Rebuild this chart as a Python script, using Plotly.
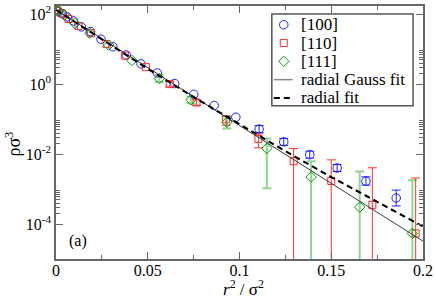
import plotly.graph_objects as go

# ---------------- data ----------------
x100 = [0, 0.000383, 0.00153, 0.00345, 0.00613, 0.00958, 0.0138, 0.01877, 0.0245, 0.031,
        0.0383, 0.0463, 0.0552, 0.0647, 0.0751, 0.0862, 0.098, 0.1107, 0.1241, 0.1383,
        0.1532, 0.1689, 0.1854]
y100 = [135, 131, 120, 104, 84.6, 65, 44, 32.3, 19.5, 11.9,
        6.9, 3.85, 2.11, 1.05, 0.516, 0.248, 0.114, 0.0522, 0.0225, 0.00968,
        0.00403, 0.00168, 5.57e-4]
hi100 = [None] * 17 + [0.0657, 0.0283, 0.0122, 0.00507, 0.00225, 9.4e-4]
lo100 = [None] * 17 + [0.0415, 0.0179, 0.0077, 0.0032, 0.0013, 3.3e-4]

x110 = [0, 0.000766, 0.00306, 0.0069, 0.01226, 0.01915, 0.02758, 0.03753, 0.049, 0.062,
        0.0766, 0.0927, 0.1103, 0.1295, 0.150, 0.1724, 0.196]
y110 = [135, 127, 107, 74, 46.6, 28.8, 14.1, 6.6, 3.1, 1.01,
        0.301, 0.100, 0.0274, 6.27e-3, 1.71e-3, 3.54e-4, 5.4e-5]
hi110 = [None] * 9 + [1.21, 0.36, 0.1216, 0.0378, 0.01455, 6.87e-3, 4.08e-3, 2.08e-3]
lo110 = [None] * 9 + [0.84, 0.25, 0.0678, 0.01524, 1e-6, 1e-6, 1e-6, 1e-6]

x111 = [0, 0.00115, 0.0046, 0.01034, 0.01838, 0.0287, 0.0414, 0.0563, 0.0735, 0.0931,
        0.1149, 0.139, 0.1655, 0.1942]
y111 = [135, 124, 95, 55, 29, 13.2, 4.8, 1.456, 0.359, 0.0822,
        0.01455, 2.22e-3, 3.05e-4, 5.4e-5]
hi111 = [None] * 7 + [1.83, 0.45, 0.1216, 0.0279, 6.27e-3, 3.21e-3, 1.79e-3]
lo111 = [None] * 7 + [1.16, 0.285, 0.0547, 1.05e-3, 1e-6, 1e-6, 1e-6]

# fit curves
gauss_x = [0, 0.2]
gauss_y = [135, 3.24e-5]
radial_x = [0, 0.025, 0.05, 0.075, 0.1, 0.125, 0.15, 0.175, 0.2]
radial_y = [135, 18.8, 2.77, 0.430, 0.0703, 0.01216, 2.22e-3, 4.27e-4, 8.5e-5]

names = ["[100]", "[110]", "[111]", "radial Gauss fit", "radial fit"]
xtick_vals = [0, 0.05, 0.1, 0.15, 0.2]
xtick_text = ["0", "0.05", "0.1", "0.15", "0.2"]
ytick_vals = [1e2, 1, 1e-2, 1e-4]
ytick_text = ["10<sup>2</sup>", "10<sup>0</sup>", "10<sup>-2</sup>", "10<sup>-4</sup>"]

# ---------------- styling ----------------
FONT = "'Liberation Serif', 'Times New Roman', 'DejaVu Serif', serif"
BLUE, RED, GREEN = "#1f1fff", "#ff2a2a", "#009a00"
series = [
    (x100, y100, hi100, lo100, BLUE, "circle-open", 8.5, BLUE, 1),
    (x110, y110, hi110, lo110, RED, "square-open", 7, "#ff3030", 1),
    (x111, y111, hi111, lo111, GREEN, "diamond-open", 8, "rgba(40,170,40,0.5)", 2),
]

fig = go.Figure()

for xs, ys, his, los, col, sym, size, ecol, ew in series:
    px = [x for x, h in zip(xs, his) if h is None]
    py = [y for y, h in zip(ys, his) if h is None]
    fig.add_trace(go.Scatter(x=px, y=py, mode="markers", showlegend=False,
                             marker=dict(symbol=sym, size=size, color=col,
                                         line=dict(width=1, color=col))))
    ex = [x for x, h in zip(xs, his) if h is not None]
    ey = [y for y, h in zip(ys, his) if h is not None]
    eh = [h - y for y, h in zip(ys, his) if h is not None]
    el = [y - l for y, l, h in zip(ys, los, his) if h is not None]
    fig.add_trace(go.Scatter(x=ex, y=ey, mode="markers", showlegend=False,
                             marker=dict(symbol=sym, size=size, color=col,
                                         line=dict(width=1, color=col)),
                             error_y=dict(type="data", symmetric=False, array=eh,
                                          arrayminus=el, color=ecol, thickness=ew,
                                          width=4.5)))

fig.add_trace(go.Scatter(x=gauss_x, y=gauss_y, mode="lines", showlegend=False,
                         line=dict(color="#3a3a3a", width=1)))
fig.add_trace(go.Scatter(x=radial_x, y=radial_y, mode="lines", showlegend=False,
                         line=dict(color="black", width=2, dash="6px,4px")))

# ---------------- manual legend (overlay axes in plot-area fractions) ----------------
L, R, T, B = 56, 425, 3, 259
def fx(p):
    return (p - L) / (R - L)
def fy(p):
    return (B - p) / (B - T)

rows = [22, 40.5, 59, 77.5, 96]
leg_marks = [(BLUE, "circle-open", 8.5), (RED, "square-open", 7), (GREEN, "diamond-open", 8)]
for (col, sym, size), ry in zip(leg_marks, rows[:3]):
    fig.add_trace(go.Scatter(x=[fx(285)], y=[fy(ry)], xaxis="x2", yaxis="y2",
                             mode="markers", showlegend=False, hoverinfo="skip",
                             marker=dict(symbol=sym, size=size, color=col,
                                         line=dict(width=1, color=col))))
fig.add_trace(go.Scatter(x=[fx(275), fx(294)], y=[fy(rows[3])] * 2, xaxis="x2", yaxis="y2",
                         mode="lines", showlegend=False, hoverinfo="skip",
                         line=dict(color="#888888", width=1.5)))
fig.add_trace(go.Scatter(x=[fx(275), fx(294)], y=[fy(rows[4])] * 2, xaxis="x2", yaxis="y2",
                         mode="lines", showlegend=False, hoverinfo="skip",
                         line=dict(color="black", width=2, dash="6px,4px")))

annotations = []
for name, ry in zip(names, rows):
    annotations.append(dict(x=fx(300), y=fy(ry), xref="paper", yref="paper", text=name,
                            showarrow=False, xanchor="left", yanchor="middle",
                            font=dict(family=FONT, size=17, color="black")))
annotations.append(dict(x=fx(78), y=fy(241), xref="paper", yref="paper", text="(a)",
                        showarrow=False, xanchor="center", yanchor="middle",
                        font=dict(family=FONT, size=16, color="black")))
annotations.append(dict(x=fx(245), y=fy(288), xref="paper", yref="paper",
                        text="<i>r</i><sup>2</sup> / σ<sup>2</sup>",
                        showarrow=False, xanchor="center", yanchor="middle",
                        font=dict(family=FONT, size=17, color="black")))
annotations.append(dict(x=fx(13), y=fy(143), xref="paper", yref="paper",
                        text="ρσ<sup>3</sup>", textangle=-90,
                        showarrow=False, xanchor="center", yanchor="middle",
                        font=dict(family=FONT, size=18, color="black")))

shapes = [dict(type="rect", xref="paper", yref="paper", x0=fx(273), x1=fx(415),
               y0=fy(104), y1=fy(11), line=dict(color="#555555", width=1.5),
               fillcolor="white", layer="below")]

yminor = [k * 10.0 ** m for m in (0, -2, -4) for k in range(2, 10)]

AX = "#666666"
fig.update_layout(
    width=436, height=299,
    margin=dict(l=L, r=436 - R, t=T, b=299 - B),
    paper_bgcolor="white", plot_bgcolor="white",
    showlegend=False,
    font=dict(family=FONT, size=16, color="black"),
    annotations=annotations, shapes=shapes,
    xaxis=dict(range=[0, 0.2], tickmode="array", tickvals=xtick_vals, ticktext=xtick_text,
               ticks="inside", ticklen=7, tickwidth=1.2, tickcolor=AX,
               showline=True, linecolor=AX, linewidth=1.5, mirror="ticks",
               showgrid=False, zeroline=False, ticklabelstandoff=-4,
               tickfont=dict(family=FONT, size=16, color="black"),
               minor=dict(tickmode="linear", tick0=0, dtick=0.025, ticks="inside",
                          ticklen=4, tickcolor=AX, tickwidth=1, showgrid=False)),
    yaxis=dict(type="log", range=[-5, 2.24], tickmode="array", tickvals=ytick_vals,
               ticktext=ytick_text, ticks="inside", ticklen=7, tickwidth=1.2, tickcolor=AX,
               showline=True, linecolor=AX, linewidth=1.5, mirror="ticks",
               showgrid=False, zeroline=False,
               tickfont=dict(family=FONT, size=16, color="black"),
               minor=dict(tickmode="array", tickvals=yminor, ticks="inside",
                          ticklen=4, tickcolor=AX, tickwidth=1, showgrid=False)),
    xaxis2=dict(overlaying="x", range=[0, 1], visible=False, fixedrange=True),
    yaxis2=dict(overlaying="y", range=[0, 1], visible=False, fixedrange=True),
)

fig.write_html("out.html", config={"displayModeBar": False},
               post_script="document.body.style.margin='0';document.body.style.padding='0';"
                           "document.body.style.overflow='hidden';")
